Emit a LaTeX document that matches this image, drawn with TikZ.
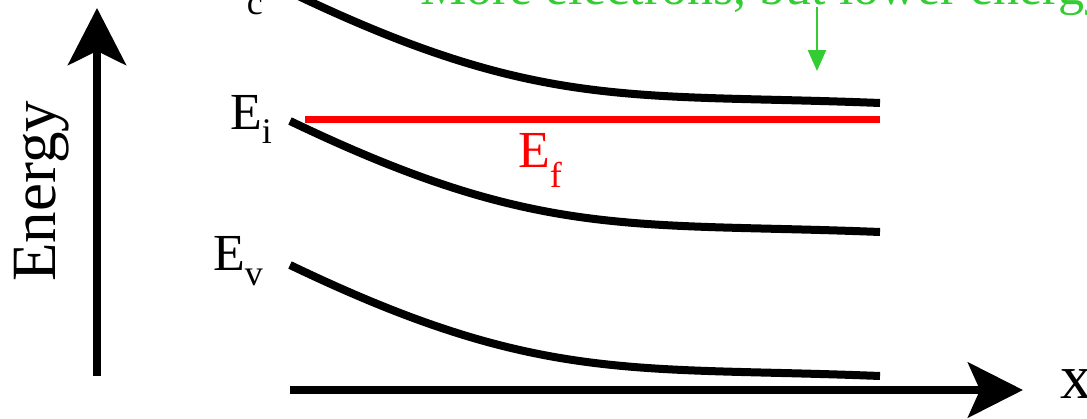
\documentclass[tikz,border=0pt]{standalone}
\usepackage{fontspec}
\setmainfont{Liberation Serif}
\newfontfamily\tnr{Liberation Serif}
\usetikzlibrary{arrows.meta}
\definecolor{fgreen}{RGB}{51,204,51}
\definecolor{fred}{RGB}{255,0,0}
\tikzset{
  band/.style={line width=8pt, black},
  axisline/.style={line width=8pt, black},
  lbl/.style={inner sep=0pt, anchor=base west, font=\tnr\fontsize{52}{60}\selectfont},
  biglbl/.style={inner sep=0pt, anchor=base west, font=\tnr\fontsize{63}{70}\selectfont},
  note/.style={inner sep=0pt, anchor=base west, text=fgreen, font=\tnr\fontsize{52}{60}\selectfont},
  notearrow/.style={line width=2.5pt, fgreen, -{Triangle[length=21pt, width=18pt]}}
}
\newcommand{\subs}[2]{\raisebox{-#1pt}{\fontsize{36}{40}\selectfont #2}}
\begin{document}
\begin{tikzpicture}[x=1pt,y=-1pt]
\useasboundingbox (0,0) rectangle (1087,418);
% axes
\coordinate (eyB) at (97,376);
\coordinate (eyT) at (97,8);
\draw[axisline, -{Stealth[length=57pt, width=58pt, inset=14pt]}] (eyB) -- (eyT);
\coordinate (xL) at (290,390);
\coordinate (xR) at (1023,390);
\draw[axisline, -{Stealth[length=55pt, width=55pt, inset=12pt]}] (xL) -- (xR);
\node[biglbl, rotate=90] (energy) at (55,282) {Energy};
\node[biglbl] (xlab) at (1060,398) {x};
% bands
\coordinate (ecS) at (290,-8);  \coordinate (ecE) at (880,103);
\coordinate (eiS) at (290,121); \coordinate (eiE) at (880,232);
\coordinate (evS) at (290,265); \coordinate (evE) at (880,376);
\draw[band] (ecS) .. controls (540,112) and (630,93) .. (ecE);
\draw[band] (eiS) .. controls (540,241) and (630,222) .. (eiE);
\draw[band] (evS) .. controls (540,385) and (630,366) .. (evE);
% Fermi level
\coordinate (efS) at (305,119.5);
\coordinate (efE) at (880,119.5);
\draw[line width=7.5pt, fred] (efS) -- (efE);
% labels
\node[lbl] (ec) at (215,0) {E\subs{14}{c}};
\node[lbl] (ei) at (230,129) {E\subs{14}{i}};
\node[lbl] (ev) at (213,270) {E\subs{15}{v}};
\node[lbl, text=fred] (ef) at (518,167) {E\subs{20}{f}};
% note
\node[note] (more) at (420,4) {More electrons, but lower energy};
\coordinate (nA) at (817,7);
\coordinate (nB) at (817,71);
\draw[notearrow] (nA) -- (nB);
\end{tikzpicture}
\end{document}
